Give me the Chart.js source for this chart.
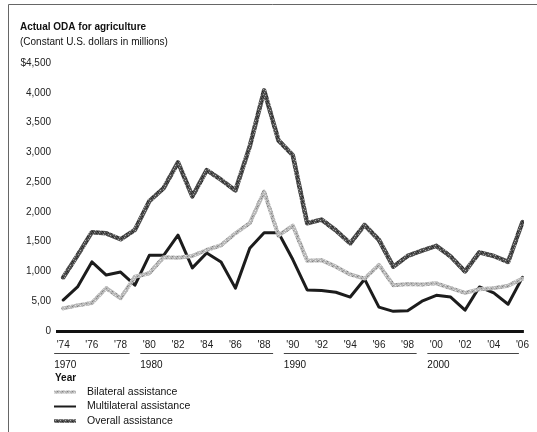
<!DOCTYPE html>
<html>
<head>
<meta charset="utf-8">
<script src="https://cdn.jsdelivr.net/npm/chart.js@4.4.0/dist/chart.umd.min.js"></script>
<style>
  html, body { margin: 0; padding: 0; background: #fff; }
  #grafikOda { display: block; }
</style>
</head>
<body>
<canvas id="grafikOda" width="537" height="432"></canvas>
<script>
const tahun = [1974, 1975, 1976, 1977, 1978, 1979, 1980, 1981, 1982, 1983, 1984,
  1985, 1986, 1987, 1988, 1989, 1990, 1991, 1992, 1993, 1994, 1995, 1996, 1997,
  1998, 1999, 2000, 2001, 2002, 2003, 2004, 2005, 2006];

const bilateral = [380, 430, 470, 720, 550, 910, 970, 1240, 1230, 1260, 1360,
  1440, 1640, 1810, 2340, 1600, 1770, 1180, 1190, 1080, 950, 880, 1110, 770,
  790, 780, 800, 720, 640, 700, 720, 760, 880];

const multilateral = [520, 740, 1160, 940, 990, 770, 1270, 1270, 1610, 1060, 1310,
  1160, 720, 1390, 1650, 1650, 1200, 690, 680, 650, 570, 870, 400, 330,
  340, 500, 600, 570, 350, 740, 640, 450, 900];

const overall = [900, 1270, 1660, 1640, 1540, 1700, 2180, 2400, 2830, 2260, 2700,
  2540, 2360, 3100, 4040, 3200, 2950, 1810, 1870, 1690, 1470, 1780, 1530, 1080,
  1260, 1350, 1430, 1250, 1000, 1320, 1260, 1160, 1830];

const xTicks = [1974, 1976, 1978, 1980, 1982, 1984, 1986, 1988, 1990, 1992, 1994,
  1996, 1998, 2000, 2002, 2004, 2006];
const yTicks = [0, 500, 1000, 1500, 2000, 2500, 3000, 3500, 4000, 4500];
const yTickLabels = ['0', '5,00', '1,000', '1,500', '2,000', '2,500', '3,000',
  '3,500', '4,000', '$4,500'];

const dekade = [
  { label: '1970', dari: 1974, sampai: 1978 },
  { label: '1980', dari: 1980, sampai: 1988 },
  { label: '1990', dari: 1990, sampai: 1998 },
  { label: '2000', dari: 2000, sampai: 2006 }
];

const judul = 'Actual ODA for agriculture';
const subjudul = '(Constant U.S. dollars in millions)';
const FONT = '"Liberation Sans", Arial, sans-serif';

// pola garis bertekstur (mirip garis cetak)
function buatPola(dasar, titik) {
  const c = document.createElement('canvas');
  c.width = 5; c.height = 5;
  const g = c.getContext('2d');
  g.fillStyle = dasar;
  g.fillRect(0, 0, 5, 5);
  titik.forEach(([x, y, warna]) => {
    g.fillStyle = warna;
    g.fillRect(x, y, 1, 1);
  });
  return g.createPattern(c, 'repeat');
}

const polaBilateral = buatPola('#b8b8b8', [[0, 0, '#e6e6e6'], [2, 1, '#808080'], [4, 2, '#dedede'],
  [1, 3, '#8c8c8c'], [3, 4, '#d4d4d4'], [3, 0, '#9a9a9a']]);
const polaOverall = buatPola('#505050', [[0, 0, '#b0b0b0'], [2, 1, '#222'], [4, 2, '#a0a0a0'],
  [1, 3, '#2a2a2a'], [3, 4, '#9c9c9c'], [3, 2, '#303030']]);

const pluginTeks = {
  id: 'pluginTeks',
  afterDraw(chart) {
    const ctx = chart.ctx;
    const xs = chart.scales.x;
    const area = chart.chartArea;
    ctx.save();

    // bingkai
    ctx.strokeStyle = '#666';
    ctx.lineWidth = 1;
    ctx.beginPath();
    ctx.moveTo(8.5, 432);
    ctx.lineTo(8.5, 4.5);
    ctx.lineTo(537, 4.5);
    ctx.stroke();

    ctx.fillStyle = '#111';
    ctx.textBaseline = 'middle';
    ctx.textAlign = 'left';
    ctx.font = 'bold 10px ' + FONT;
    ctx.fillText(judul, 20, 27);
    ctx.font = '10px ' + FONT;
    ctx.fillText(subjudul, 20, 42);

    // kelompok dekade di bawah sumbu x
    dekade.forEach(d => {
      const x0 = xs.getPixelForValue(d.dari) - 9;
      const x1 = Math.min(xs.getPixelForValue(d.sampai) + 9, area.right - 5);
      ctx.strokeStyle = '#444';
      ctx.beginPath();
      ctx.moveTo(x0, 353.5);
      ctx.lineTo(x1, 353.5);
      ctx.stroke();
      ctx.fillStyle = '#111';
      ctx.font = '10px ' + FONT;
      ctx.fillText(d.label, x0, 365);
    });

    ctx.font = 'bold 10px ' + FONT;
    ctx.fillText('Year', 55, 378);

    // legenda
    chart.data.datasets.forEach((ds, i) => {
      const y = 392 + i * 14.5;
      ctx.strokeStyle = ds.borderColor;
      ctx.lineWidth = ds.borderWidth - 1;
      ctx.beginPath();
      ctx.moveTo(54, y);
      ctx.lineTo(76, y);
      ctx.stroke();
      ctx.fillStyle = '#111';
      ctx.font = '10.5px ' + FONT;
      ctx.fillText(ds.label, 87, y);
    });
    ctx.restore();
  }
};

const grafik = new Chart(document.getElementById('grafikOda'), {
  type: 'line',
  data: {
    labels: tahun,
    datasets: [
      {
        label: 'Bilateral assistance',
        data: tahun.map((t, i) => ({ x: t, y: bilateral[i] })),
        borderColor: polaBilateral,
        borderWidth: 4
      },
      {
        label: 'Multilateral assistance',
        data: tahun.map((t, i) => ({ x: t, y: multilateral[i] })),
        borderColor: '#1c1c1c',
        borderWidth: 3
      },
      {
        label: 'Overall assistance',
        data: tahun.map((t, i) => ({ x: t, y: overall[i] })),
        borderColor: polaOverall,
        borderWidth: 4.5
      }
    ]
  },
  options: {
    responsive: false,
    animation: false,
    devicePixelRatio: 1,
    layout: { padding: { top: 63, right: 10, bottom: 81, left: 0 } },
    elements: {
      point: { radius: 0 },
      line: { tension: 0, borderJoinStyle: 'round', borderCapStyle: 'round' }
    },
    plugins: {
      legend: { display: false },
      tooltip: { enabled: false }
    },
    scales: {
      x: {
        type: 'linear',
        min: 1973.5,
        max: 2006.1,
        afterBuildTicks: s => { s.ticks = xTicks.map(v => ({ value: v })); },
        afterFit: s => { s.height = 20; },
        border: { display: false },
        grid: { display: false, drawTicks: false },
        ticks: {
          autoSkip: false,
          maxRotation: 0,
          padding: 8,
          color: '#222',
          font: { family: FONT, size: 10 },
          callback: v => "'" + String(v).slice(2)
        }
      },
      y: {
        min: 0,
        max: 4500,
        afterBuildTicks: s => { s.ticks = yTicks.map(v => ({ value: v })); },
        afterFit: s => { s.width = 56; },
        border: { display: false },
        grid: {
          drawTicks: false,
          lineWidth: 3,
          color: c => (c.tick && c.tick.value === 0 ? '#111' : 'rgba(0,0,0,0)')
        },
        ticks: {
          padding: 5,
          color: '#222',
          font: { family: FONT, size: 10 },
          callback: v => yTickLabels[yTicks.indexOf(v)]
        }
      }
    }
  },
  plugins: [pluginTeks]
});
</script>
</body>
</html>
